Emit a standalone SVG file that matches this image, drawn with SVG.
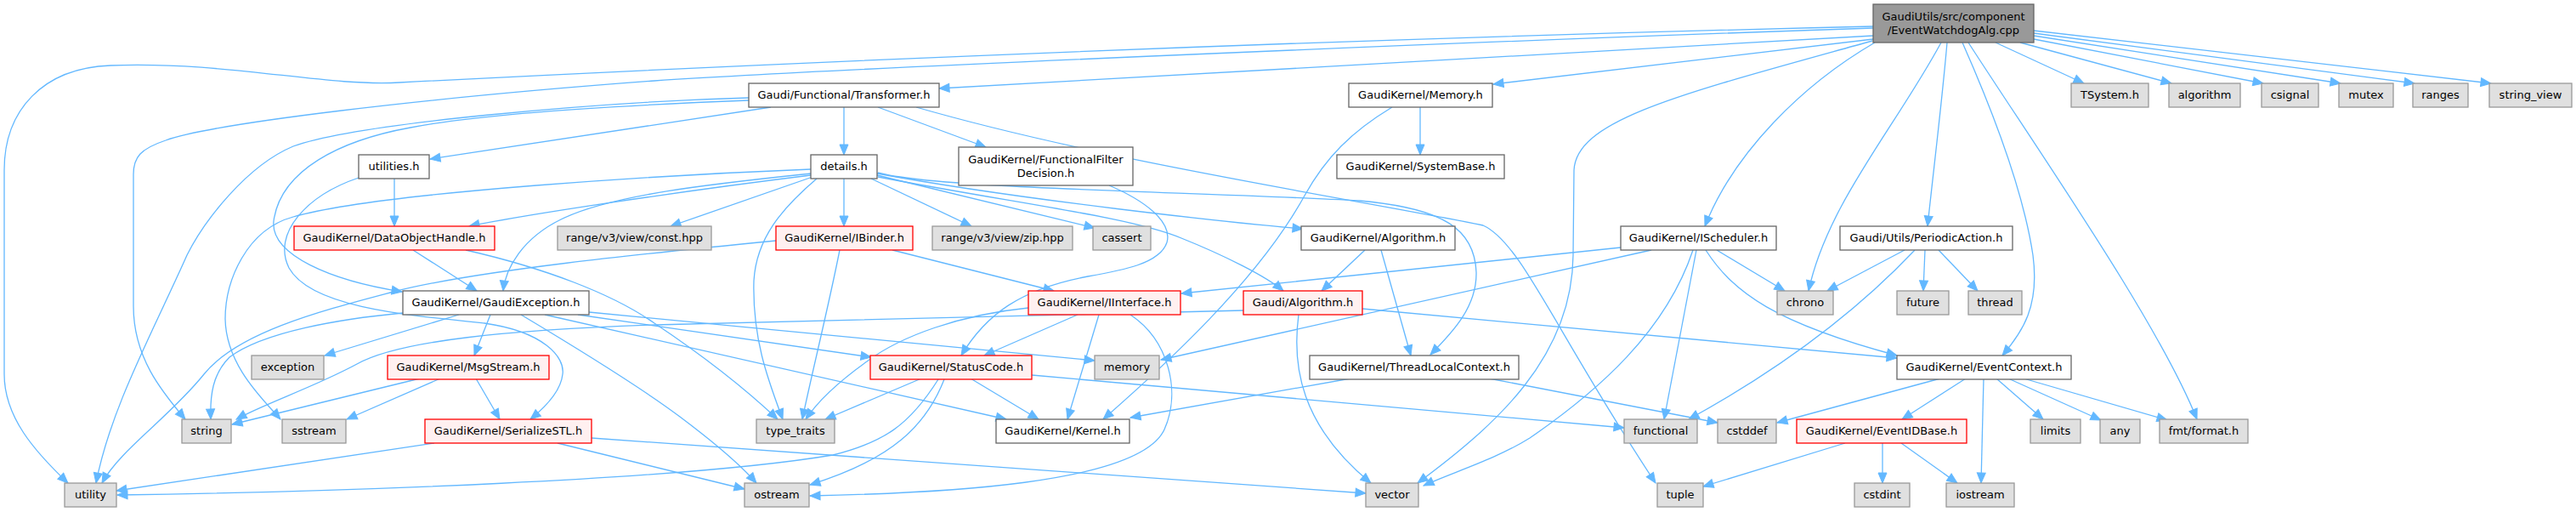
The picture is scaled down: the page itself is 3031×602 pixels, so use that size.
<svg xmlns="http://www.w3.org/2000/svg" width="3031" height="602" viewBox="0 0 3031 602">
<style>
rect{stroke-width:1.3}
.n rect{fill:#ffffff;stroke:#666666}
.g rect{fill:#e0e0e0;stroke:#999999}
.r rect{fill:#fff0f0;stroke:#ff0000}
.t rect{fill:#999999;stroke:#666666}
text{font-family:"DejaVu Sans","Liberation Sans",sans-serif;font-size:13px;text-anchor:middle;fill:#000000}
#edges path{fill:none;stroke:#63b8ff;stroke-width:1.3;marker-end:url(#ah)}
</style>
<defs>
<marker id="ah" markerWidth="13" markerHeight="11" refX="12" refY="5" orient="auto" markerUnits="userSpaceOnUse" overflow="visible">
<path d="M0,0 L12,5 L0,10 z" fill="#63b8ff" stroke="#63b8ff" stroke-width="1"/>
</marker>
</defs>
<rect x="0" y="0" width="3031" height="602" fill="#ffffff"/>
<g id="edges">
<path d="M2204,42 L1105,104"/>
<path d="M2204,46 L1757,99"/>
<path d="M2348,50 L2452,98"/>
<path d="M2377,50 L2555,98"/>
<path d="M2393,46 L2663,98"/>
<path d="M2393,42 L2754,98"/>
<path d="M2393,39 L2841,98"/>
<path d="M2393,36 L2931,98"/>
<path d="M2284,50 C2230,150 2150,240 2128,342"/>
<path d="M2206,50 C2120,100 2040,180 2006,266"/>
<path d="M2291,50 C2285,120 2275,200 2268,266"/>
<path d="M2309,50 C2340,120 2380,220 2392,300 C2400,360 2380,390 2356,418"/>
<path d="M2316,50 C2400,180 2540,380 2585,493"/>
<path d="M2203,48 C1980,110 1855,140 1852,200 L1851,300 C1850,420 1760,500 1668,568"/>
<path d="M2204,31 C1600,45 1000,70 470,97 C380,102 270,72 130,77 C50,80 5,130 5,200 L5,440 C5,490 40,530 80,568"/>
<path d="M2204,33 C1700,50 1000,80 770,95 C500,115 250,145 195,165 C165,175 157,185 157,205 L157,360 C157,420 190,460 218,493"/>
<path d="M993,126 L993,182"/>
<path d="M1033,126 L1160,173"/>
<path d="M1078,126 C1300,190 1600,235 1745,265 C1790,285 1830,390 1948,568"/>
<path d="M907,126 L506,187"/>
<path d="M881,115 C700,120 420,145 345,172 C290,195 240,260 220,300 C180,390 130,480 113,568"/>
<path d="M881,118 C700,125 560,135 483,150 C400,165 330,200 322,260 C318,300 390,330 473,343"/>
<path d="M464,210 L464,266"/>
<path d="M422,209 C360,230 320,275 340,315 C365,360 470,370 570,380 C640,390 665,420 662,440 C660,460 640,480 624,493"/>
<path d="M993,210 L993,266"/>
<path d="M956,208 L789,266"/>
<path d="M1025,210 L1143,266"/>
<path d="M1032,206 L1288,268"/>
<path d="M1032,204 C1200,235 1450,262 1533,269"/>
<path d="M1033,203 C1100,222 1400,225 1600,236 C1700,245 1735,270 1737,320 C1738,360 1710,390 1683,417"/>
<path d="M1033,208 C1200,240 1330,255 1390,280 C1440,300 1490,325 1510,342"/>
<path d="M954,199 C800,205 450,225 345,255 C290,270 265,330 265,375 C266,430 310,470 330,493"/>
<path d="M954,204 C850,215 720,228 660,258 C615,280 595,315 592,342"/>
<path d="M954,206 C800,225 620,252 552,266"/>
<path d="M961,210 C920,245 890,280 887,330 C885,400 905,450 921,493"/>
<path d="M1050,294 L1240,342"/>
<path d="M988,294 C975,360 955,440 944,493"/>
<path d="M913,283 C760,298 560,318 463,343 C380,365 280,390 240,440 C200,490 140,530 120,568"/>
<path d="M486,294 L561,342"/>
<path d="M548,294 C640,315 720,345 770,380 C830,420 880,460 915,493"/>
<path d="M540,370 L382,418"/>
<path d="M577,370 L558,418"/>
<path d="M474,368 C400,375 310,390 270,420 C250,440 247,465 248,493"/>
<path d="M693,367 L1288,424"/>
<path d="M680,370 L1025,420"/>
<path d="M641,370 L1184,493"/>
<path d="M613,370 C680,410 760,460 800,490 C840,520 870,545 890,568"/>
<path d="M494,445 L273,499"/>
<path d="M518,445 L408,493"/>
<path d="M560,445 L588,493"/>
<path d="M511,521 L137,577"/>
<path d="M656,521 L876,575"/>
<path d="M696,515 L1607,580"/>
<path d="M1084,445 L971,493"/>
<path d="M1142,445 L1222,493"/>
<path d="M1111,446 C1090,500 1050,540 953,570"/>
<path d="M1104,446 C1070,500 1040,520 980,535 C800,565 400,578 138,582"/>
<path d="M1214,441 L1911,503"/>
<path d="M1305,218 C1345,235 1380,260 1373,285 C1365,310 1320,318 1280,325 C1200,340 1160,370 1131,418"/>
<path d="M1671,126 L1671,182"/>
<path d="M1638,126 C1590,155 1560,185 1535,230 C1480,330 1370,430 1298,493"/>
<path d="M1268,370 L1158,418"/>
<path d="M1293,370 L1256,493"/>
<path d="M1210,362 C1130,370 1060,395 1020,425 C985,450 960,475 948,493"/>
<path d="M1330,370 C1375,400 1390,460 1370,505 C1340,570 1100,580 953,583"/>
<path d="M1463,365 C1100,372 900,378 770,382 C600,388 470,400 420,428 C370,455 310,475 278,493"/>
<path d="M1528,370 C1520,430 1530,500 1613,568"/>
<path d="M1603,363 L2232,421"/>
<path d="M1606,294 L1555,342"/>
<path d="M1625,294 L1660,418"/>
<path d="M1907,291 L1390,345"/>
<path d="M1943,294 L1366,423"/>
<path d="M1992,294 C1960,390 1880,460 1800,515 C1760,540 1710,555 1675,571"/>
<path d="M1996,294 L1958,493"/>
<path d="M2007,294 C2040,345 2090,380 2232,418"/>
<path d="M2020,294 L2100,342"/>
<path d="M2241,294 L2150,342"/>
<path d="M2253,294 C2200,350 2120,420 1987,493"/>
<path d="M2265,294 L2263,342"/>
<path d="M2281,294 L2327,342"/>
<path d="M1589,445 L1330,491"/>
<path d="M1752,445 L2021,497"/>
<path d="M2283,445 L2091,497"/>
<path d="M2313,445 L2238,493"/>
<path d="M2334,445 L2331,568"/>
<path d="M2349,445 L2404,493"/>
<path d="M2363,445 L2472,494"/>
<path d="M2381,445 L2550,494"/>
<path d="M2171,521 L2004,572"/>
<path d="M2215,521 L2215,568"/>
<path d="M2237,521 L2303,568"/>
</g>
<g id="n0" class="t"><rect x="2204" y="5" width="189" height="45"/><text x="2298.5" y="23.5">GaudiUtils/src/component</text><text x="2298.5" y="40">/EventWatchdogAlg.cpp</text></g>
<g id="n1" class="n"><rect x="881" y="98" width="224" height="28"/><text x="993" y="116">Gaudi/Functional/Transformer.h</text></g>
<g id="n2" class="n"><rect x="1587" y="98" width="169" height="28"/><text x="1671.5" y="116">GaudiKernel/Memory.h</text></g>
<g id="n3" class="g"><rect x="2437" y="98" width="91" height="28"/><text x="2482.5" y="116">TSystem.h</text></g>
<g id="n4" class="g"><rect x="2552" y="98" width="84" height="28"/><text x="2594" y="116">algorithm</text></g>
<g id="n5" class="g"><rect x="2661" y="98" width="67" height="28"/><text x="2694.5" y="116">csignal</text></g>
<g id="n6" class="g"><rect x="2752" y="98" width="64" height="28"/><text x="2784" y="116">mutex</text></g>
<g id="n7" class="g"><rect x="2839" y="98" width="65" height="28"/><text x="2871.5" y="116">ranges</text></g>
<g id="n8" class="g"><rect x="2929" y="98" width="97" height="28"/><text x="2977.5" y="116">string_view</text></g>
<g id="n9" class="n"><rect x="422" y="182" width="83" height="28"/><text x="463.5" y="200">utilities.h</text></g>
<g id="n10" class="n"><rect x="954" y="182" width="78" height="28"/><text x="993" y="200">details.h</text></g>
<g id="n11" class="n"><rect x="1128" y="173" width="205" height="45"/><text x="1230.5" y="192">GaudiKernel/FunctionalFilter</text><text x="1230.5" y="208">Decision.h</text></g>
<g id="n12" class="n"><rect x="1573" y="182" width="197" height="28"/><text x="1671.5" y="200">GaudiKernel/SystemBase.h</text></g>
<g id="n13" class="r"><rect x="346" y="266" width="236" height="28"/><text x="464" y="284">GaudiKernel/DataObjectHandle.h</text></g>
<g id="n14" class="g"><rect x="656" y="266" width="181" height="28"/><text x="746.5" y="284">range/v3/view/const.hpp</text></g>
<g id="n15" class="r"><rect x="913" y="266" width="161" height="28"/><text x="993.5" y="284">GaudiKernel/IBinder.h</text></g>
<g id="n16" class="g"><rect x="1097" y="266" width="165" height="28"/><text x="1179.5" y="284">range/v3/view/zip.hpp</text></g>
<g id="n17" class="g"><rect x="1286" y="266" width="68" height="28"/><text x="1320" y="284">cassert</text></g>
<g id="n18" class="n"><rect x="1531" y="266" width="181" height="28"/><text x="1621.5" y="284">GaudiKernel/Algorithm.h</text></g>
<g id="n19" class="n"><rect x="1907" y="266" width="183" height="28"/><text x="1998.5" y="284">GaudiKernel/IScheduler.h</text></g>
<g id="n20" class="n"><rect x="2165" y="266" width="203" height="28"/><text x="2266.5" y="284">Gaudi/Utils/PeriodicAction.h</text></g>
<g id="n21" class="n"><rect x="474" y="342" width="219" height="28"/><text x="583.5" y="360">GaudiKernel/GaudiException.h</text></g>
<g id="n22" class="r"><rect x="1210" y="342" width="179" height="28"/><text x="1299.5" y="360">GaudiKernel/IInterface.h</text></g>
<g id="n23" class="r"><rect x="1463" y="342" width="140" height="28"/><text x="1533" y="360">Gaudi/Algorithm.h</text></g>
<g id="n24" class="g"><rect x="2091" y="342" width="66" height="28"/><text x="2124" y="360">chrono</text></g>
<g id="n25" class="g"><rect x="2232" y="342" width="61" height="28"/><text x="2262.5" y="360">future</text></g>
<g id="n26" class="g"><rect x="2316" y="342" width="63" height="28"/><text x="2347.5" y="360">thread</text></g>
<g id="n27" class="g"><rect x="296" y="418" width="85" height="28"/><text x="338.5" y="436">exception</text></g>
<g id="n28" class="r"><rect x="456" y="418" width="190" height="28"/><text x="551" y="436">GaudiKernel/MsgStream.h</text></g>
<g id="n29" class="g"><rect x="1288" y="418" width="76" height="28"/><text x="1326" y="436">memory</text></g>
<g id="n30" class="r"><rect x="1024" y="418" width="190" height="28"/><text x="1119" y="436">GaudiKernel/StatusCode.h</text></g>
<g id="n31" class="n"><rect x="1541" y="418" width="246" height="28"/><text x="1664" y="436">GaudiKernel/ThreadLocalContext.h</text></g>
<g id="n32" class="n"><rect x="2232" y="418" width="205" height="28"/><text x="2334.5" y="436">GaudiKernel/EventContext.h</text></g>
<g id="n33" class="g"><rect x="214" y="493" width="58" height="28"/><text x="243" y="511">string</text></g>
<g id="n34" class="g"><rect x="332" y="493" width="75" height="28"/><text x="369.5" y="511">sstream</text></g>
<g id="n35" class="r"><rect x="500" y="493" width="196" height="28"/><text x="598" y="511">GaudiKernel/SerializeSTL.h</text></g>
<g id="n36" class="g"><rect x="890" y="493" width="92" height="28"/><text x="936" y="511">type_traits</text></g>
<g id="n37" class="n"><rect x="1172" y="493" width="157" height="28"/><text x="1250.5" y="511">GaudiKernel/Kernel.h</text></g>
<g id="n38" class="g"><rect x="1911" y="493" width="86" height="28"/><text x="1954" y="511">functional</text></g>
<g id="n39" class="g"><rect x="2021" y="493" width="69" height="28"/><text x="2055.5" y="511">cstddef</text></g>
<g id="n40" class="r"><rect x="2114" y="493" width="200" height="28"/><text x="2214" y="511">GaudiKernel/EventIDBase.h</text></g>
<g id="n41" class="g"><rect x="2389" y="493" width="59" height="28"/><text x="2418.5" y="511">limits</text></g>
<g id="n42" class="g"><rect x="2471" y="493" width="47" height="28"/><text x="2494.5" y="511">any</text></g>
<g id="n43" class="g"><rect x="2541" y="493" width="104" height="28"/><text x="2593" y="511">fmt/format.h</text></g>
<g id="n44" class="g"><rect x="76" y="568" width="61" height="28"/><text x="106.5" y="586">utility</text></g>
<g id="n45" class="g"><rect x="876" y="568" width="76" height="28"/><text x="914" y="586">ostream</text></g>
<g id="n46" class="g"><rect x="1607" y="568" width="62" height="28"/><text x="1638" y="586">vector</text></g>
<g id="n47" class="g"><rect x="1950" y="568" width="54" height="28"/><text x="1977" y="586">tuple</text></g>
<g id="n48" class="g"><rect x="2182" y="568" width="65" height="28"/><text x="2214.5" y="586">cstdint</text></g>
<g id="n49" class="g"><rect x="2290" y="568" width="80" height="28"/><text x="2330" y="586">iostream</text></g>
</svg>
